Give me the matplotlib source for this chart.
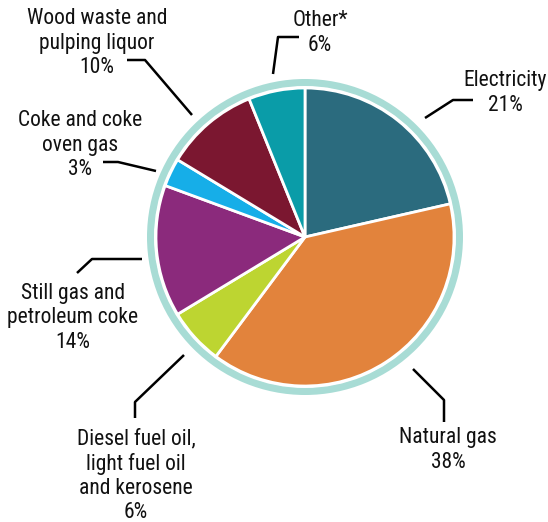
import matplotlib
matplotlib.use("Agg")
import matplotlib.pyplot as plt
from matplotlib.patches import Wedge

fam = ['Roboto Condensed', 'Barlow Semi Condensed', 'Liberation Sans Narrow', 'Liberation Sans', 'DejaVu Sans']

labels = ['Electricity', 'Natural gas', 'Diesel fuel oil,\nlight fuel oil\nand kerosene',
          'Still gas and\npetroleum coke', 'Coke and coke\noven gas',
          'Wood waste and\npulping liquor', 'Other*']
shares = [21, 38, 6, 14, 3, 10, 6]
colors = ['#2b6b7e', '#e2833c', '#bdd531', '#8b2a7c', '#16aee8', '#7b1730', '#0a9ca8']

W, H = 548, 522
fig = plt.figure(figsize=(W / 100, H / 100), dpi=100)
ax = fig.add_axes([0, 0, 1, 1])
ax.set_xlim(0, W)
ax.set_ylim(0, H)
ax.set_aspect('equal')
ax.axis('off')

def p(x, y):
    # image pixel coords -> axes coords (y up)
    return x, H - y

cx, cy = p(305, 237)
ax.add_patch(Wedge((cx, cy), 158, 0, 360, width=7, facecolor='#a8dcd5', edgecolor='none'))
ax.pie(shares, colors=colors, startangle=90, counterclock=False, center=(cx, cy), radius=149,
       wedgeprops=dict(edgecolor='white', linewidth=2))
ax.set_xlim(0, W)
ax.set_ylim(0, H)

# leader lines (pixel coords in image) and label centres
leaders = [
    [(425, 118), (453, 100), (473, 100)],
    [(413, 369), (444, 400), (444, 422)],
    [(184, 355), (135, 402), (135, 418)],
    [(142, 259), (92, 259), (77, 273)],
    [(156, 171), (118, 162), (103, 162)],
    [(192, 115), (145, 60), (127, 60)],
    [(273, 74), (278, 37), (299, 37)],
]
label_pos = [(505, 93), (448, 450), (136, 476), (73, 318), (80, 145), (97, 43), (320, 33)]

for i, (lab, s) in enumerate(zip(labels, shares)):
    pts = [p(x, y) for x, y in leaders[i]]
    ax.plot([a for a, b in pts], [b for a, b in pts], color='black', lw=1.8, solid_capstyle='butt')
    tx, ty = p(*label_pos[i])
    ax.text(tx, ty, f'{lab}\n{s}%', ha='center', va='center', fontsize=15.5,
            family=fam, color='#111111', linespacing=1.2)

fig.savefig('out.png', dpi=100, facecolor='white')
